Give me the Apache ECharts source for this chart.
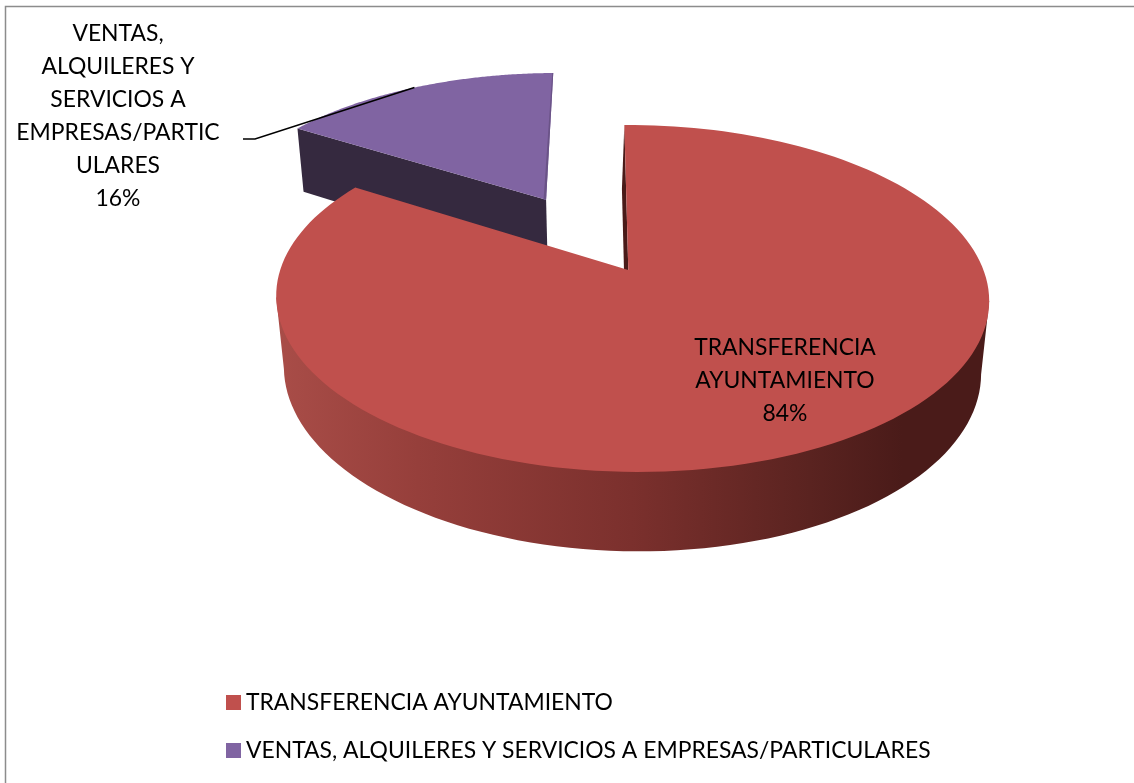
<!DOCTYPE html>
<html>
<head>
<meta charset="utf-8">
<style>
  html, body { margin: 0; padding: 0; background: #fff; }
  #chart { width: 1134px; height: 783px; }
</style>
<script src="https://cdn.jsdelivr.net/npm/echarts@6/dist/echarts.min.js"></script>
</head>
<body>
<div id="chart"></div>
<script>
const categories = ['TRANSFERENCIA AYUNTAMIENTO', 'VENTAS, ALQUILERES Y SERVICIOS A EMPRESAS/PARTICULARES'];
const values = [84, 16];
const labelLines = [
  ['TRANSFERENCIA', 'AYUNTAMIENTO'],
  ['VENTAS,', 'ALQUILERES Y', 'SERVICIOS A', 'EMPRESAS/PARTIC', 'ULARES']
];
const topColors = ['#c0504d', '#8064a2'];

const FONT = '22.9px Lato, "Open Sans", sans-serif';
const total = values.reduce((a, b) => a + b, 0);

// perspective of the tilted pie, fitted to the picture
const P = { x0: 628.3, y0: 270, bx: 351.6, ay: 168.8, sh: 4.6, cy: -0.164, cx: -0.01, cz: 0.022, depth: 72.6 };
const project = (X, Y, Z) => {
  const w = 1 + P.cy * Y + P.cx * X + P.cz * Z;
  return [P.x0 + (X * P.bx + P.sh * Y) / w, P.y0 + (Y * P.ay + Z * P.depth) / w];
};

// slice index -> start / end angle, clockwise from the back of the pie
const sliceAngles = (idx) => {
  let start = 0;
  for (let i = 0; i < idx; i++) start += values[i] / total * Math.PI * 2;
  return [start, start + values[idx] / total * Math.PI * 2];
};

const explode = [0, 0.51];

const rimPoints = (idx, Z) => {
  const [a0, a1] = sliceAngles(idx);
  const mid = (a0 + a1) / 2;
  const ox = explode[idx] * Math.sin(mid), oy = -explode[idx] * Math.cos(mid);
  const pts = [];
  for (let i = 0; i <= 160; i++) {
    const a = a0 + (a1 - a0) * i / 160;
    pts.push(project(ox + Math.sin(a), oy - Math.cos(a), Z));
  }
  return { pts, apex: project(ox, oy, Z) };
};

// index of the rim point furthest left / right
const extremeIndex = (pts, sign) => {
  let best = 0;
  pts.forEach((p, i) => { if (p[0] * sign > pts[best][0] * sign) best = i; });
  return best;
};

const wallGradient = {
  type: 'linear', x: 275, y: 0, x2: 988, y2: 0, global: true,
  colorStops: [
    { offset: 0, color: '#a94d48' },
    { offset: 0.2, color: '#963f3b' },
    { offset: 0.5, color: '#7b302d' },
    { offset: 0.75, color: '#5a2320' },
    { offset: 0.88, color: '#4a1b19' },
    { offset: 1, color: '#4a1b19' }
  ]
};

const labelEl = (text, x, y) => ({
  type: 'text',
  z2: 20,
  style: { text, x, y, align: 'center', verticalAlign: 'middle', font: FONT, fill: '#000', lineHeight: 33 }
});

const renderBig = (params, api) => {
  const idx = 0;
  const top = rimPoints(idx, 0), bottom = rimPoints(idx, 1);
  const pct = Math.round(api.value(0) / total * 100);
  // outer wall: lower rim between its side extremes, joined up to the upper rim's extremes
  const r = extremeIndex(bottom.pts, 1), l = extremeIndex(bottom.pts, -1);
  const wall = [top.pts[extremeIndex(top.pts, 1)]]
    .concat(bottom.pts.slice(r, l + 1))
    .concat([top.pts[extremeIndex(top.pts, -1)]]);
  return {
    type: 'group',
    children: [
      { type: 'polygon', shape: { points: wall }, style: { fill: wallGradient } },
      { type: 'polygon', shape: { points: [top.apex, top.pts[0], [bottom.pts[0][0] - 2.5, bottom.pts[0][1]], [bottom.apex[0] - 2.5, bottom.apex[1]]] }, style: { fill: '#4a1b19' } },
      { type: 'polygon', shape: { points: top.pts.concat([top.apex]) }, style: { fill: topColors[idx] } },
      labelEl(labelLines[idx].concat(pct + '%').join('\n'), 785, 380.5)
    ]
  };
};

const renderSmall = (params, api) => {
  const idx = 1;
  const top = rimPoints(idx, 0), bottom = rimPoints(idx, 1);
  const last = top.pts.length - 1;
  const pct = Math.round(api.value(0) / total * 100);
  const midPt = top.pts[Math.round(last / 2)];
  const corner = top.pts[last];
  return {
    type: 'group',
    children: [
      { type: 'polygon', shape: { points: [top.apex, top.pts[0], bottom.pts[0], bottom.apex] }, style: { fill: '#35293f' } },
      { type: 'polygon', shape: { points: top.pts.concat([top.apex]) }, style: { fill: topColors[idx] } },
      // thin darker strip along the straight right edge
      { type: 'polygon', shape: { points: [corner, top.apex, [top.apex[0] - 2.5, top.apex[1]], [corner[0] - 1, corner[1]]] }, style: { fill: '#6a5387' } },
      { type: 'polyline', z2: 10, shape: { points: [[243, 139], [255, 139], midPt] }, style: { stroke: '#000', lineWidth: 1.5, fill: null } },
      labelEl(labelLines[idx].concat(pct + '%').join('\n'), 118, 116)
    ]
  };
};

const myChart = echarts.init(document.getElementById('chart'));
myChart.setOption({
  animation: false,
  backgroundColor: '#fff',
  legend: {
    orient: 'vertical',
    left: 226,
    top: 689,
    padding: 0,
    itemWidth: 15,
    itemHeight: 15,
    itemGap: 21,
    icon: 'rect',
    selectedMode: false,
    textStyle: { fontFamily: 'Lato, "Open Sans", sans-serif', fontSize: 22.9, color: '#000', height: 27, lineHeight: 27, padding: [0, 0, 0, 0] },
    data: categories
  },
  graphic: [{
    type: 'polyline',
    silent: true,
    shape: { points: [[5.5, 783], [5.5, 6.5], [1134, 6.5]] },
    style: { stroke: '#8c8c8c', lineWidth: 1.5, fill: null }
  }],
  series: [
    { type: 'custom', name: categories[1], coordinateSystem: 'none', z: 2, silent: true, itemStyle: { color: topColors[1] }, renderItem: renderSmall, data: [[values[1]]] },
    { type: 'custom', name: categories[0], coordinateSystem: 'none', z: 3, silent: true, itemStyle: { color: topColors[0] }, renderItem: renderBig, data: [[values[0]]] }
  ]
});
</script>
</body>
</html>
